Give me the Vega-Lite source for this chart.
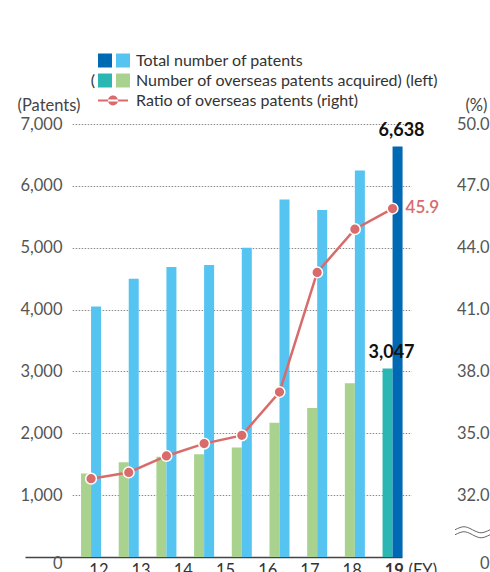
{
  "$schema": "https://vega.github.io/schema/vega-lite/v6.json",
  "width": 385,
  "height": 433,
  "autosize": {"type": "none"},
  "padding": {"left": 67, "top": 124, "right": 38, "bottom": 15},
  "config": {
    "font": "Lato",
    "view": {"stroke": null}
  },
  "datasets": {
    "bars": [
      {"fy": "2011", "series": "overseas", "count": 1350},
      {"fy": "2011", "series": "total", "count": 4050},
      {"fy": "2012", "series": "overseas", "count": 1530},
      {"fy": "2012", "series": "total", "count": 4500},
      {"fy": "2013", "series": "overseas", "count": 1620},
      {"fy": "2013", "series": "total", "count": 4690},
      {"fy": "2014", "series": "overseas", "count": 1660},
      {"fy": "2014", "series": "total", "count": 4720},
      {"fy": "2015", "series": "overseas", "count": 1770},
      {"fy": "2015", "series": "total", "count": 5000},
      {"fy": "2016", "series": "overseas", "count": 2170},
      {"fy": "2016", "series": "total", "count": 5780},
      {"fy": "2017", "series": "overseas", "count": 2410},
      {"fy": "2017", "series": "total", "count": 5610},
      {"fy": "2018", "series": "overseas", "count": 2810},
      {"fy": "2018", "series": "total", "count": 6250},
      {"fy": "2019", "series": "overseas", "count": 3047},
      {"fy": "2019", "series": "total", "count": 6638}
    ],
    "ratio": [
      {"fy": "2011", "ratio": 32.8},
      {"fy": "2012", "ratio": 33.1},
      {"fy": "2013", "ratio": 33.9},
      {"fy": "2014", "ratio": 34.5},
      {"fy": "2015", "ratio": 34.9},
      {"fy": "2016", "ratio": 37.0},
      {"fy": "2017", "ratio": 42.8},
      {"fy": "2018", "ratio": 44.9},
      {"fy": "2019", "ratio": 45.9}
    ],
    "fyTicks": [
      {"fy": "12"}, {"fy": "13"}, {"fy": "14"}, {"fy": "15"},
      {"fy": "16"}, {"fy": "17"}, {"fy": "18"}, {"fy": "19"}
    ]
  },
  "layer": [
    {
      "data": {"name": "bars"},
      "layer": [
        {
          "transform": [{"filter": "datum.fy != '2019'"}],
          "mark": {"type": "bar"},
          "encoding": {
            "x": {"field": "fy", "type": "ordinal", "axis": null,
                  "scale": {"type": "band", "domain": ["2011","2012","2013","2014","2015","2016","2017","2018","2019"], "range": [5.2, 344.4], "paddingInner": 0.469, "paddingOuter": 0.2345}},
            "xOffset": {"field": "series", "type": "nominal", "scale": {"type": "band", "domain": ["overseas", "total"], "paddingInner": 0, "paddingOuter": 0}},
            "y": {"field": "count", "type": "quantitative",
                  "scale": {"domain": [0, 7000], "nice": false},
                  "axis": {
                    "orient": "left", "title": "(Patents)", "titleAngle": 0, "titleAlign": "left", "titleBaseline": "middle",
                    "titleX": -50, "titleY": -19, "titleFontSize": 16.5, "titleFontWeight": "normal", "titleColor": "#444",
                    "values": [0, 1000, 2000, 3000, 4000, 5000, 6000, 7000],
                    "labelExpr": "format(datum.value, ',')",
                    "labelFontSize": 16.5, "labelColor": "#555", "labelPadding": 5,
                    "labelOffset": {"condition": {"test": "datum.value == 0", "value": 6}, "value": 0},
                    "ticks": false, "domain": false, "grid": true, "gridColor": "#8a8a8a", "gridDash": [1.5, 1.5], "gridWidth": 1,
                    "gridOpacity": {"condition": {"test": "datum.value == 0", "value": 0}, "value": 1}
                  }},
            "color": {"field": "series", "type": "nominal",
                      "scale": {"domain": ["total", "overseas", "ratio"], "range": ["#56C4F1", "#A8D28D", "#D96B6B"]},
                      "legend": {"title": null, "orient": "none", "legendX": 48, "legendY": -71.5, "padding": 0,
                                 "symbolSize": 196, "symbolStrokeWidth": 0, "labelFontSize": 16, "labelColor": "#333",
                                 "labelOffset": 5, "rowPadding": 4, "labelLimit": 400,
                                 "labelExpr": "datum.value == 'total' ? 'Total number of patents' : datum.value == 'overseas' ? 'Number of overseas patents acquired) (left)' : 'Ratio of overseas patents (right)'",
                                 "encode": {"symbols": {"update": {
                                   "shape": {"signal": "datum.value == 'ratio' ? 'M-3.57,-0.15H0.71V0.15H-3.57Z M-2.14,0A0.71,0.71 0 1,0 -0.72,0A0.71,0.71 0 1,0 -2.14,0Z' : 'square'"},
                                   "opacity": {"value": 1}, "fillOpacity": {"value": 1}, "strokeWidth": {"value": 0}
                                 }}}}}
          }
        },
        {
          "transform": [{"filter": "datum.fy == '2019'"}],
          "mark": {"type": "bar"},
          "encoding": {
            "x": {"field": "fy", "type": "ordinal"},
            "xOffset": {"field": "series", "type": "nominal"},
            "y": {"field": "count", "type": "quantitative"},
            "fill": {"field": "series", "type": "nominal",
                     "scale": {"domain": ["total", "overseas"], "range": ["#0069B4", "#2AB6B2"]},
                     "legend": {"title": null, "orient": "none", "legendX": 30, "legendY": -71.5, "padding": 0,
                                "symbolType": "square", "symbolSize": 196, "symbolStrokeWidth": 0,
                                "labelFontSize": 16, "labelColor": "#333", "labelAlign": "right", "labelOffset": -18,
                                "rowPadding": 4,
                                "labelExpr": "datum.value == 'overseas' ? '(' : ''"}}
          }
        },
        {
          "transform": [{"filter": "datum.fy == '2019'"}],
          "mark": {"type": "text", "fontWeight": "bold", "fontSize": 18, "color": "#111", "baseline": "middle", "dx": 4, "dy": -15.5},
          "encoding": {
            "x": {"field": "fy", "type": "ordinal"},
            "xOffset": {"field": "series", "type": "nominal"},
            "y": {"field": "count", "type": "quantitative"},
            "text": {"field": "count", "type": "quantitative", "format": ","}
          }
        }
      ]
    },
    {
      "layer": [
        {
          "data": {"name": "ratio"},
          "mark": {"type": "line", "color": "#D96B6B", "strokeWidth": 2.5},
          "encoding": {
            "x": {"field": "fy", "type": "ordinal", "axis": null,
                  "scale": {"type": "band", "domain": ["2011","2012","2013","2014","2015","2016","2017","2018","2019"], "range": [5.2, 344.4], "paddingInner": 0.469, "paddingOuter": 0.2345}},
            "y": {"field": "ratio", "type": "quantitative",
                  "scale": {"domain": [29, 50], "nice": false, "zero": false},
                  "axis": {
                    "orient": "right", "title": "(%)", "titleAngle": 0, "titleAlign": "right", "titleBaseline": "middle",
                    "titleX": 35, "titleY": -19, "titleFontSize": 16.5, "titleFontWeight": "normal", "titleColor": "#444",
                    "values": [29, 32, 35, 38, 41, 44, 47, 50],
                    "labelExpr": "datum.value == 29 ? '0' : format(datum.value, '.1f')",
                    "labelFontSize": 16.5, "labelColor": "#555", "labelAlign": "right", "labelPadding": 37,
                    "labelOffset": {"condition": {"test": "datum.value == 29", "value": 6}, "value": 0},
                    "ticks": false, "domain": false, "grid": false
                  }}
          }
        },
        {
          "data": {"name": "ratio"},
          "mark": {"type": "point", "shape": "circle", "filled": true, "size": 115, "stroke": "#ffffff", "strokeWidth": 1.5, "opacity": 1},
          "encoding": {
            "x": {"field": "fy", "type": "ordinal"},
            "y": {"field": "ratio", "type": "quantitative"},
            "color": {"datum": "ratio", "type": "nominal"}
          }
        },
        {
          "data": {"name": "ratio"},
          "transform": [{"filter": "datum.fy == '2019'"}],
          "mark": {"type": "text", "align": "left", "baseline": "middle", "dx": 13, "dy": -1, "fontSize": 17, "fontWeight": 600, "color": "#D96B6B"},
          "encoding": {
            "x": {"field": "fy", "type": "ordinal"},
            "y": {"field": "ratio", "type": "quantitative"},
            "text": {"field": "ratio", "type": "quantitative", "format": ".1f"}
          }
        },
        {
          "data": {"values": [{"ratio": 30.2}]},
          "mark": {"type": "point", "filled": false, "color": "#666", "strokeWidth": 1, "size": 100, "opacity": 1,
                   "shape": "M0.6,-0.5C2.2,-1.3 2.6,-1.3 4.1,-0.5C5.6,0.3 6,0.3 7.6,-0.5M0.6,0.5C2.2,-0.3 2.6,-0.3 4.1,0.5C5.6,1.3 6,1.3 7.6,0.5"},
          "encoding": {
            "x": {"value": "width"},
            "y": {"field": "ratio", "type": "quantitative"}
          }
        }
      ]
    },
    {
      "data": {"name": "fyTicks"},
      "mark": {"type": "rule", "opacity": 0},
      "encoding": {
        "x": {"field": "fy", "type": "ordinal",
              "scale": {"type": "point", "domain": ["12","13","14","15","16","17","18","19"], "range": [-42, 335], "padding": 0.966, "align": 0.9},
              "axis": {"orient": "bottom", "title": "(FY)", "titleX": 341, "titleY": 5, "titleAlign": "left", "titleBaseline": "top",
                       "titleFontSize": 16.5, "titleFontWeight": "normal", "titleColor": "#333",
                       "labelAngle": 0, "labelFontSize": 16.5, "labelColor": "#333", "labelPadding": 5,
                       "labelFontWeight": {"condition": {"test": "datum.value == '19'", "value": "bold"}, "value": "normal"},
                       "ticks": false, "domain": true, "domainColor": "#444", "domainWidth": 1.5, "grid": false}}
      }
    }
  ],
  "resolve": {"scale": {"x": "independent", "y": "independent"}, "axis": {"x": "independent", "y": "independent"}}
}
